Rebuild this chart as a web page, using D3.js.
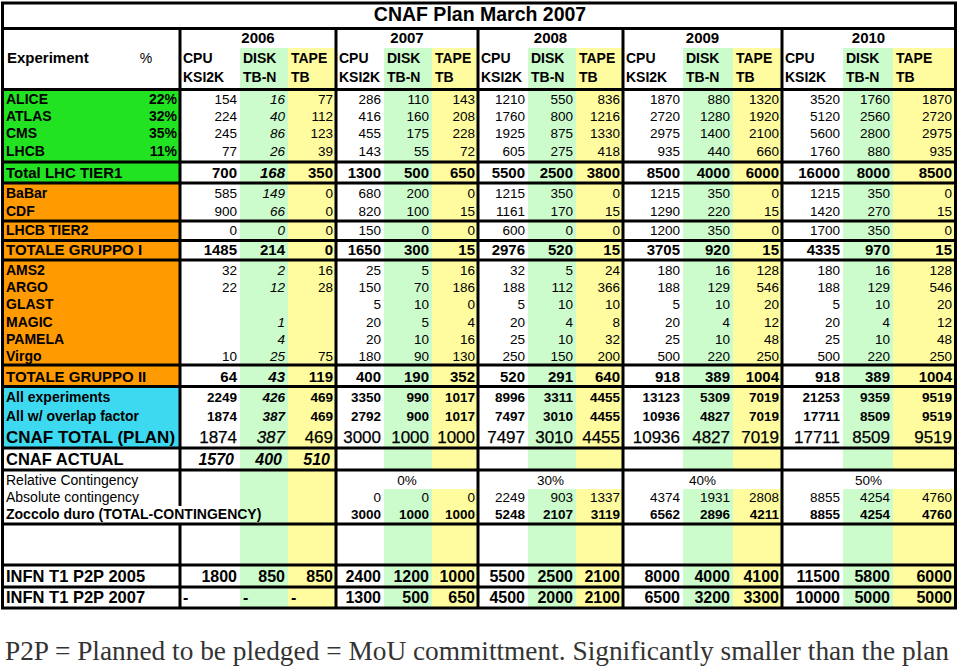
<!DOCTYPE html>
<html><head><meta charset="utf-8">
<script src="https://cdn.jsdelivr.net/npm/d3@7"></script>
<style>body{margin:0;background:#fff}svg{display:block}</style>
</head><body><svg id="c" width="960" height="671"></svg>
<script>
// ---------------- DATA ----------------
const title = "CNAF Plan March 2007";
const years = ["2006","2007","2008","2009","2010"];
const resources = ["CPU","DISK","TAPE"];
const units = ["KSI2K","TB-N","TB"];
const rowLabels = ["ALICE","ATLAS","CMS","LHCB","Total LHC TIER1","BaBar","CDF","LHCB TIER2","TOTALE GRUPPO I",
  "AMS2","ARGO","GLAST","MAGIC","PAMELA","Virgo","TOTALE GRUPPO II","All experiments","All w/ overlap factor",
  "CNAF TOTAL (PLAN)","CNAF ACTUAL","Relative Contingency","Absolute contingency","Zoccolo duro (TOTAL-CONTINGENCY)",
  "INFN T1 P2P 2005","INFN T1 P2P 2007"];
const shares = ["22%","32%","35%","11%"];
const alice   = [154,16,77, 286,110,143, 1210,550,836, 1870,880,1320, 3520,1760,1870];
const atlas   = [224,40,112, 416,160,208, 1760,800,1216, 2720,1280,1920, 5120,2560,2720];
const cms     = [245,86,123, 455,175,228, 1925,875,1330, 2975,1400,2100, 5600,2800,2975];
const lhcb    = [77,26,39, 143,55,72, 605,275,418, 935,440,660, 1760,880,935];
const totalLHC= [700,168,350, 1300,500,650, 5500,2500,3800, 8500,4000,6000, 16000,8000,8500];
const babar   = [585,149,0, 680,200,0, 1215,350,0, 1215,350,0, 1215,350,0];
const cdf     = [900,66,0, 820,100,15, 1161,170,15, 1290,220,15, 1420,270,15];
const lhcbT2  = [0,0,0, 150,0,0, 600,0,0, 1200,350,0, 1700,350,0];
const totG1   = [1485,214,0, 1650,300,15, 2976,520,15, 3705,920,15, 4335,970,15];
const ams2    = [32,2,16, 25,5,16, 32,5,24, 180,16,128, 180,16,128];
const argo    = [22,12,28, 150,70,186, 188,112,366, 188,129,546, 188,129,546];
const glast   = [null,null,null, 5,10,0, 5,10,10, 5,10,20, 5,10,20];
const magic   = [null,1,null, 20,5,4, 20,4,8, 20,4,12, 20,4,12];
const pamela  = [null,4,null, 20,10,16, 25,10,32, 25,10,48, 25,10,48];
const virgo   = [10,25,75, 180,90,130, 250,150,200, 500,220,250, 500,220,250];
const totG2   = [64,43,119, 400,190,352, 520,291,640, 918,389,1004, 918,389,1004];
const allExp  = [2249,426,469, 3350,990,1017, 8996,3311,4455, 13123,5309,7019, 21253,9359,9519];
const overlap = [1874,387,469, 2792,900,1017, 7497,3010,4455, 10936,4827,7019, 17711,8509,9519];
const cnafPlan= [1874,387,469, 3000,1000,1000, 7497,3010,4455, 10936,4827,7019, 17711,8509,9519];
const cnafActual = [1570,400,510, null,null,null, null,null,null, null,null,null, null,null,null];
const relContingency = [null,"0%","30%","40%","50%"];
const absContingency = [null,null,null, 0,0,0, 2249,903,1337, 4374,1931,2808, 8855,4254,4760];
const zoccolo = [null,null,null, 3000,1000,1000, 5248,2107,3119, 6562,2896,4211, 8855,4254,4760];
const p2p2005 = [1800,850,850, 2400,1200,1000, 5500,2500,2100, 8000,4000,4100, 11500,5800,6000];
const p2p2007 = ["-","-","-", 1300,500,650, 4500,2000,2100, 6500,3200,3300, 10000,5000,5000];
const footnote = "P2P = Planned to be pledged = MoU committment. Significantly smaller than the plan";

// ---------------- LAYOUT / STYLE ----------------
const GREEN="#22e322", ORANGE="#ff9a00", CYAN="#3cd9f0", LGREEN="#ccfbcc", LYELLOW="#fffb9f";
const FONT="'Liberation Sans', Arial, Helvetica, sans-serif";
const colEdges=[180,240,288,336,384,432,478,528,576,623,683,733,782,843,893,955];
const colIdx=d3.range(15);
const xL=d3.scaleOrdinal().domain(colIdx).range(colEdges.slice(0,15));
const xR=d3.scaleOrdinal().domain(colIdx).range(colEdges.slice(1));
const gIdx=d3.range(5);
const gL=d3.scaleOrdinal().domain(gIdx).range(gIdx.map(g=>colEdges[g*3]));
const gR=d3.scaleOrdinal().domain(gIdx).range(gIdx.map(g=>colEdges[g*3+3]));

const rows=[
 {vals:alice,   cy:99.5, ls:14, ns:13.5, nw:"normal", it:true},
 {vals:atlas,   cy:116.5,ls:14, ns:13.5, nw:"normal", it:true},
 {vals:cms,     cy:133.5,ls:14, ns:13.5, nw:"normal", it:true},
 {vals:lhcb,    cy:151,  ls:14, ns:13.5, nw:"normal", it:true},
 {vals:totalLHC,cy:173,  ls:15, ns:15,   nw:"bold",   it:true},
 {vals:babar,   cy:193,  ls:14, ns:13.5, nw:"normal", it:true},
 {vals:cdf,     cy:211,  ls:14, ns:13.5, nw:"normal", it:true},
 {vals:lhcbT2,  cy:230,  ls:14, ns:13.5, nw:"normal", it:true},
 {vals:totG1,   cy:250,  ls:15, ns:15,   nw:"bold",   it:false},
 {vals:ams2,    cy:270,  ls:14, ns:13.5, nw:"normal", it:true},
 {vals:argo,    cy:287,  ls:14, ns:13.5, nw:"normal", it:true},
 {vals:glast,   cy:304.5,ls:14, ns:13.5, nw:"normal", it:true},
 {vals:magic,   cy:322,  ls:14, ns:13.5, nw:"normal", it:true},
 {vals:pamela,  cy:339,  ls:14, ns:13.5, nw:"normal", it:true},
 {vals:virgo,   cy:356,  ls:14, ns:13.5, nw:"normal", it:true},
 {vals:totG2,   cy:376.5,ls:15, ns:15,   nw:"bold",   it:true},
 {vals:allExp,  cy:397,  ls:14, ns:13.5, nw:"bold",   it:true},
 {vals:overlap, cy:416,  ls:14, ns:13.5, nw:"bold",   it:true},
 {vals:cnafPlan,cy:436.5,ls:17, ns:17,   nw:"normal", it:true},
 {vals:cnafActual,cy:459,ls:16.5,ns:16,  nw:"bold",   it:false, allIt:true, pad:6},
 {rel:true,     cy:480.5,ls:14, ns:13.5, nw:"normal", lw:"normal"},
 {vals:absContingency,cy:497.5,ls:14,ns:13.5,nw:"normal",lw:"normal"},
 {vals:zoccolo, cy:514.5,ls:14, ns:13.5, nw:"bold"},
 {vals:p2p2005, cy:576,  ls:16.5,ns:16,  nw:"bold"},
 {vals:p2p2007, cy:597.5,ls:16.5,ns:16,  nw:"bold"}
];
rows.forEach((r,i)=>r.label=rowLabels[i]);

const svg=d3.select("#c");
const bl=(cy,s)=>cy+0.355*s;

// backgrounds
const bg=svg.append("g");
bg.append("rect").attr("x",0).attr("y",0).attr("width",960).attr("height",671).attr("fill","#fff");
colIdx.filter(i=>i%3>0).forEach(i=>{
  bg.append("rect").attr("x",xL(i)).attr("y",48).attr("width",xR(i)-xL(i)).attr("height",560)
    .attr("fill",i%3===1?LGREEN:LYELLOW);
});
[[91,183,GREEN],[183,387,ORANGE],[387,448,CYAN]].forEach(([a,b,c])=>{
  bg.append("rect").attr("x",3).attr("y",a).attr("width",177).attr("height",b-a).attr("fill",c);
});
gIdx.filter(g=>relContingency[g]!==null).forEach(g=>{
  bg.append("rect").attr("x",gL(g)).attr("y",471).attr("width",gR(g)-gL(g)).attr("height",18).attr("fill","#fff");
});

// text
const tg=svg.append("g").attr("font-family",FONT).attr("fill","#000");
tg.append("text").attr("x",480).attr("y",bl(14.5,19.5)).attr("text-anchor","middle")
  .attr("font-size",19.5).attr("font-weight","bold").text(title);
gIdx.forEach(g=>{
  tg.append("text").attr("x",(gL(g)+gR(g))/2).attr("y",bl(38,15)).attr("text-anchor","middle")
    .attr("font-size",15).attr("font-weight","bold").text(years[g]);
});
tg.append("text").attr("x",7).attr("y",bl(58,15)).attr("font-size",15).attr("font-weight","bold").text("Experiment");
tg.append("text").attr("x",146).attr("y",bl(58,14)).attr("text-anchor","middle").attr("font-size",14).text("%");
colIdx.forEach(i=>{
  tg.append("text").attr("x",xL(i)+3).attr("y",bl(58,14)).attr("font-size",14).attr("font-weight","bold").text(resources[i%3]);
  tg.append("text").attr("x",xL(i)+3).attr("y",bl(77,14)).attr("font-size",14).attr("font-weight","bold").text(units[i%3]);
});

rows.forEach((r,ri)=>{
  tg.append("text").attr("x",6).attr("y",bl(r.cy,r.ls)).attr("font-size",r.ls)
    .attr("font-weight",r.lw||"bold").text(r.label);
  if(ri<shares.length){
    tg.append("text").attr("x",177).attr("y",bl(r.cy,r.ls)).attr("text-anchor","end")
      .attr("font-size",r.ls).attr("font-weight","bold").text(shares[ri]);
  }
  if(r.rel){
    gIdx.forEach(g=>{ if(relContingency[g]!==null)
      tg.append("text").attr("x",(gL(g)+gR(g))/2).attr("y",bl(r.cy,r.ns)).attr("text-anchor","middle")
        .attr("font-size",r.ns).text(relContingency[g]);
    });
    return;
  }
  r.vals.forEach((v,i)=>{
    if(v===null) return;
    const t=tg.append("text").attr("y",bl(r.cy,r.ns)).attr("font-size",r.ns).attr("font-weight",r.nw);
    if(typeof v==="string"){ t.attr("x",xL(i)+3).text(v); }
    else { t.attr("x",xR(i)-(r.pad||3)).attr("text-anchor","end").text(v); }
    if(r.allIt || (r.it && i===1)) t.attr("font-style","italic");
    if(r.vals===cnafPlan) t.attr("stroke","#000").attr("stroke-width",0.25);
  });
});

// lines
const lg=svg.append("g").attr("stroke","#000").attr("stroke-width",3).attr("fill","none");
lg.append("rect").attr("x",2.5).attr("y",3).attr("width",953).attr("height",605);
[28.5,89.5,162,183,221,240.5,260,365,386.5,448,470,524,565,587].forEach(y=>{
  lg.append("line").attr("x1",2.5).attr("x2",955.5).attr("y1",y).attr("y2",y);
});
gIdx.slice(1).forEach(g=>{
  lg.append("line").attr("x1",gL(g)).attr("x2",gL(g)).attr("y1",28.5).attr("y2",608);
});
[[28.5,506],[524,608]].forEach(([a,b])=>{
  lg.append("line").attr("x1",180).attr("x2",180).attr("y1",a).attr("y2",b);
});

// footnote
svg.append("text").attr("x",5).attr("y",660).attr("font-family","'Liberation Serif','Times New Roman',serif")
  .attr("font-size",27).attr("textLength",944).attr("lengthAdjust","spacingAndGlyphs")
  .attr("fill","#333").text(footnote);
</script></body></html>
